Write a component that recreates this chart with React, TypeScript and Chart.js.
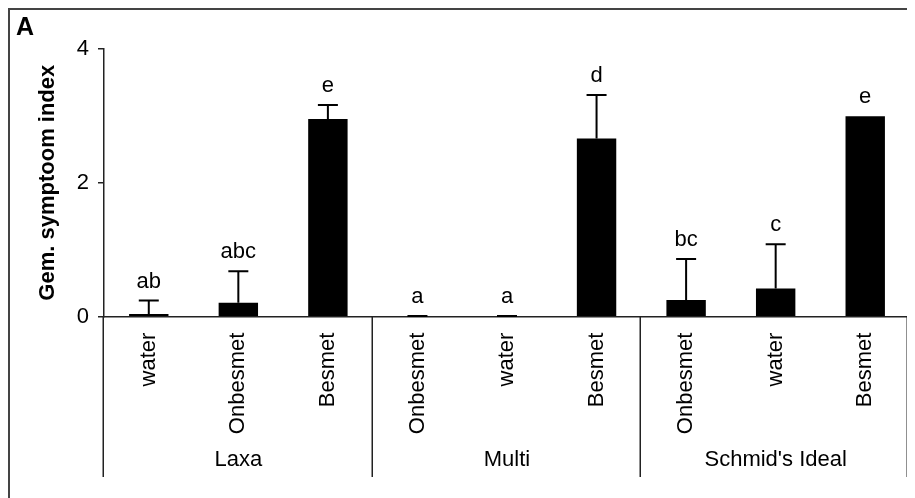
import { useEffect, useRef } from "react";
import { Chart, registerables } from "chart.js";

Chart.register(...registerables);

const categories = [
  "water", "Onbesmet", "Besmet",
  "Onbesmet", "water", "Besmet",
  "Onbesmet", "water", "Besmet",
];
const groups = ["Laxa", "Multi", "Schmid's Ideal"];
const groupSize = 3;
const means = [0.04, 0.21, 2.95, 0, 0, 2.66, 0.25, 0.42, 2.99];
const sds = [0.2, 0.47, 0.21, 0.01, 0.01, 0.65, 0.61, 0.66, 0];
const letters = ["ab", "abc", "e", "a", "a", "d", "bc", "c", "e"];
const yTicks = [0, 2, 4];

const FONT = "'Liberation Sans', Arial, sans-serif";

// error bars, significance letters, group boxes and panel letter
const extras = {
  id: "extras",
  afterDatasetsDraw(chart: Chart) {
    const { ctx } = chart;
    const x = chart.scales.x;
    const y = chart.scales.y;
    const zero = y.getPixelForValue(0);
    const bottom = 467;
    ctx.save();
    ctx.strokeStyle = "#000";
    ctx.fillStyle = "#000";
    ctx.lineWidth = 2;

    means.forEach((m, i) => {
      const px = x.getPixelForValue(i);
      const top = y.getPixelForValue(m + sds[i]);
      if (sds[i] > 0) {
        ctx.beginPath();
        ctx.moveTo(px, y.getPixelForValue(m));
        ctx.lineTo(px, top);
        ctx.moveTo(px - 10, top);
        ctx.lineTo(px + 10, top);
        ctx.stroke();
      }
      ctx.font = `22px ${FONT}`;
      ctx.textAlign = "center";
      ctx.textBaseline = "middle";
      ctx.fillText(letters[i], px, top - 19);
    });

    // group separators below the axis
    ctx.lineWidth = 1.5;
    ctx.strokeStyle = "#222";
    for (let g = 0; g <= groups.length; g++) {
      let px = Math.round(x.getPixelForValue(g * groupSize - 0.5)) - 0.75;
      if (g === groups.length) px -= 2;
      ctx.beginPath();
      ctx.moveTo(px, zero);
      ctx.lineTo(px, bottom);
      ctx.stroke();
    }
    ctx.font = `22px ${FONT}`;
    ctx.textAlign = "center";
    ctx.textBaseline = "middle";
    groups.forEach((g, i) => {
      ctx.fillText(g, x.getPixelForValue(i * groupSize + 1), 450);
    });

    // panel letter
    ctx.font = `bold 25px ${FONT}`;
    ctx.textAlign = "left";
    ctx.textBaseline = "alphabetic";
    ctx.fillText("A", 6, 25);
    ctx.restore();
  },
};

export default function App() {
  const ref = useRef<HTMLCanvasElement | null>(null);

  useEffect(() => {
    if (!ref.current) return;
    document.body.style.overflow = "hidden";
    const chart = new Chart(ref.current, {
      type: "bar",
      data: {
        labels: categories,
        datasets: [
          {
            data: means,
            backgroundColor: "#000",
            borderWidth: 0,
            barPercentage: 0.44,
            categoryPercentage: 1,
          },
        ],
      },
      options: {
        animation: false,
        responsive: false,
        layout: { padding: { top: 38.7, right: 0, left: 0, bottom: 0 } },
        plugins: { legend: { display: false }, tooltip: { enabled: false } },
        scales: {
          x: {
            grid: { display: false },
            border: { display: true, color: "#222", width: 1.5 },
            ticks: {
              color: "#000",
              font: { family: FONT, size: 22 },
              minRotation: 90,
              maxRotation: 90,
              autoSkip: false,
              padding: 8,
            },
            afterFit: (s: any) => {
              s.height = 173.3;
            },
          },
          y: {
            min: 0,
            max: 4,
            afterBuildTicks: (s: any) => {
              s.ticks = yTicks.map((v) => ({ value: v }));
            },
            grid: { drawOnChartArea: false, drawTicks: true, tickLength: 6, color: "#222", lineWidth: 1.5 },
            border: { display: true, color: "#222", width: 1.5 },
            ticks: { color: "#000", font: { family: FONT, size: 22 }, padding: 9 },
            title: {
              display: true,
              text: "Gem. symptoom index",
              color: "#000",
              font: { family: FONT, size: 22, weight: "bold" },
              padding: { top: 25, bottom: 0 },
            },
            afterFit: (s: any) => {
              s.width = 94;
            },
          },
        },
      },
      plugins: [extras],
    });
    return () => chart.destroy();
  }, []);

  return (
    <div
      style={{
        width: 905,
        height: 488,
        borderTop: "2px solid #444",
        borderLeft: "2px solid #444",
      }}
    >
      <canvas ref={ref} width={900} height={480} style={{ display: "block" }} />
    </div>
  );
}
